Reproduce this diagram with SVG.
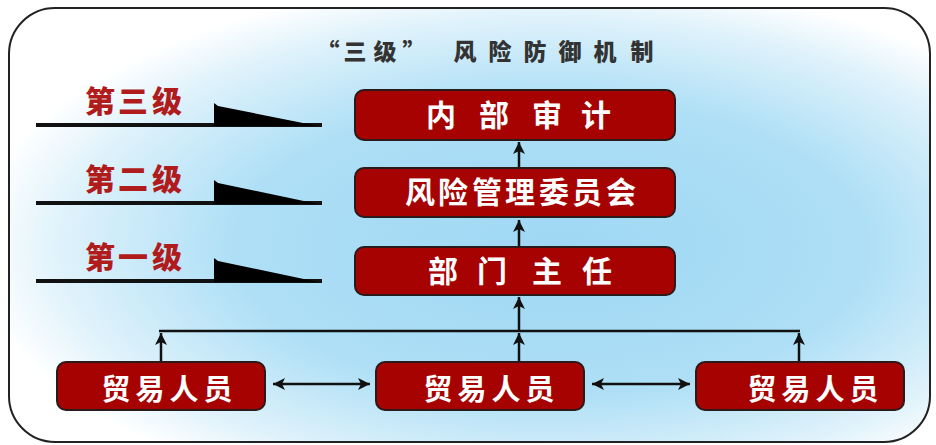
<svg xmlns="http://www.w3.org/2000/svg" width="936" height="445" viewBox="0 0 936 445">
<defs>
<radialGradient id="bg" cx="0.58" cy="0.55" r="0.62" fx="0.6" fy="0.55">
<stop offset="0" stop-color="#9fd7f3"/>
<stop offset="0.55" stop-color="#aedff6"/>
<stop offset="0.85" stop-color="#dff2fb"/>
<stop offset="1" stop-color="#ffffff"/>
</radialGradient>
<marker id="ah" viewBox="0 0 12 12" refX="12" refY="6" markerWidth="12" markerHeight="12" markerUnits="userSpaceOnUse" orient="auto-start-reverse">
<path d="M0,0 L12,6 L0,12 L3,6 Z" fill="#111"/>
</marker>
<style>
.box{fill:#a60202;stroke:#2a1a1a;stroke-width:2}
.wt{fill:#ffffff;font-family:"Noto Sans CJK SC",sans-serif;font-weight:bold;text-anchor:middle}
.lv{fill:#b01c1c;font-family:"Noto Sans CJK SC",sans-serif;font-weight:900;font-size:30px;text-anchor:middle}
.conn{stroke:#111;stroke-width:2.5;fill:none}
.lvl{stroke:#111;stroke-width:4}
</style>
</defs>
<rect x="0" y="0" width="936" height="445" fill="#ffffff"/>
<rect x="9" y="8" width="921" height="434" rx="46" ry="46" fill="url(#bg)" stroke="#222" stroke-width="2"/>
<text fill="#333" font-family="'Noto Sans CJK SC',sans-serif" font-weight="900" font-size="23" text-anchor="middle" x="328 355 385 414 465 500 535 570 605 642" y="60">“三级”风险防御机制</text>

<g id="level3">
<text class="lv" x="100 133 167" y="112">第三级</text>
<line class="lvl" x1="36" y1="125" x2="322" y2="125"/>
<polygon points="214,103 218,106 318,126 214,126" fill="#000"/>
</g>
<g id="level2">
<text class="lv" x="100 133 167" y="190">第二级</text>
<line class="lvl" x1="36" y1="203" x2="322" y2="203"/>
<polygon points="214,180 218,183 318,204 214,204" fill="#000"/>
</g>
<g id="level1">
<text class="lv" x="100 133 167" y="268">第一级</text>
<line class="lvl" x1="36" y1="281" x2="322" y2="281"/>
<polygon points="214,258 218,261 318,282 214,282" fill="#000"/>
</g>

<g id="connectors">
<line class="conn" x1="519" y1="168" x2="519" y2="142" marker-end="url(#ah)"/>
<line class="conn" x1="519" y1="247" x2="519" y2="220" marker-end="url(#ah)"/>
<line class="conn" x1="519" y1="331" x2="519" y2="297" marker-end="url(#ah)"/>
<line class="conn" x1="159" y1="331" x2="800" y2="331"/>
<line class="conn" x1="161" y1="362" x2="161" y2="333" marker-end="url(#ah)"/>
<line class="conn" x1="519" y1="362" x2="519" y2="333" marker-end="url(#ah)"/>
<line class="conn" x1="799" y1="362" x2="799" y2="333" marker-end="url(#ah)"/>
<line class="conn" x1="273" y1="384" x2="370" y2="384" marker-start="url(#ah)" marker-end="url(#ah)"/>
<line class="conn" x1="592" y1="384" x2="690" y2="384" marker-start="url(#ah)" marker-end="url(#ah)"/>
</g>

<g id="audit">
<rect class="box" x="355" y="90" width="320" height="50" rx="9"/>
<text class="wt" font-size="30" x="441 494 547 596" y="126">内部审计</text>
</g>
<g id="committee">
<rect class="box" x="355" y="168" width="320" height="49" rx="9"/>
<text class="wt" font-size="30" x="420 453 487 520 554 587 621" y="203">风险管理委员会</text>
</g>
<g id="director">
<rect class="box" x="355" y="247" width="320" height="48" rx="9"/>
<text class="wt" font-size="30" x="443 492 547 597" y="282">部门主任</text>
</g>
<g id="trader1">
<rect class="box" x="57" y="362" width="208" height="48" rx="9"/>
<text class="wt" font-size="29" x="116 150 184 218" y="400">贸易人员</text>
</g>
<g id="trader2">
<rect class="box" x="376" y="362" width="208" height="48" rx="9"/>
<text class="wt" font-size="29" x="438 472 506 540" y="400">贸易人员</text>
</g>
<g id="trader3">
<rect class="box" x="696" y="362" width="208" height="48" rx="9"/>
<text class="wt" font-size="29" x="762 796 830 864" y="400">贸易人员</text>
</g>
</svg>
